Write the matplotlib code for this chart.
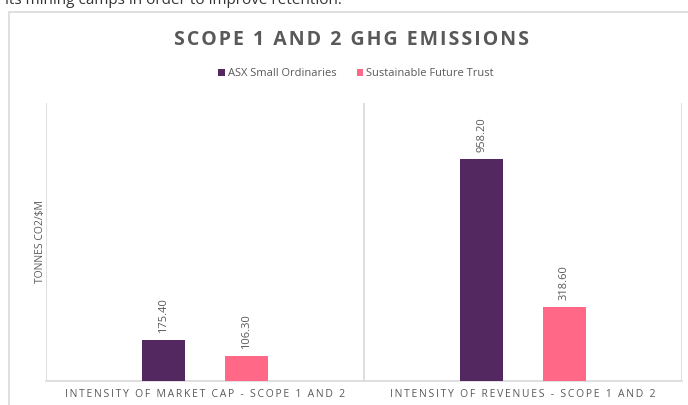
import matplotlib
matplotlib.use('Agg')
import matplotlib.pyplot as plt
from matplotlib.patches import Rectangle
import numpy as np

plt.rcParams['font.family'] = ['Open Sans', 'DejaVu Sans']

# chart data
categories = ['INTENSITY OF MARKET CAP - SCOPE 1 AND 2', 'INTENSITY OF REVENUES - SCOPE 1 AND 2']
series_names = ['ASX Small Ordinaries', 'Sustainable Future Trust']
asx_values = [175.40, 958.20]
sft_values = [106.30, 318.60]

purple = '#53275F'
pink = '#FF6987'
grey_text = '#595959'
grid_col = '#D9D9D9'


def spaced(s, sep='\u200a'):
    # fake letter spacing, excel style
    return sep.join(list(s))


fig = plt.figure(figsize=(6.88, 4.05), dpi=100)

# bit of the page text that got cut off at the top of the screenshot
fig.text(5 / 688, 1 - 4 / 405, 'its mining camps in order to improve retention.',
         fontsize=11, color='#333333', va='baseline', ha='left')

# chart frame
frame = Rectangle((9 / 688, -0.1), 1.2, 1.1 - 12 / 405, transform=fig.transFigure,
                  fill=False, edgecolor=grid_col, linewidth=1.2, clip_on=False)
fig.patches.append(frame)

ax = fig.add_axes([46 / 688, 24 / 405, (682 - 46) / 688, (381 - 103) / 405])

x = np.arange(len(categories))
w = 0.135
off = 0.13
b1 = ax.bar(x - off, asx_values, w, color=purple, label=series_names[0], zorder=3)
b2 = ax.bar(x + off, sft_values, w, color=pink, label=series_names[1], zorder=3)

for bars, vals in [(b1, asx_values), (b2, sft_values)]:
    for r, v in zip(bars, vals):
        ax.annotate('%.2f' % v, (r.get_x() + r.get_width() / 2, r.get_height()),
                    xytext=(0, 5), textcoords='offset points', rotation=90,
                    ha='center', va='bottom', fontsize=8, color=grey_text)

ax.set_xlim(-0.5, len(categories) - 0.5)
ax.set_ylim(0, 1200)

# category boundaries
for xb in np.arange(-0.5, len(categories), 1.0):
    ax.axvline(xb, color=grid_col, linewidth=1.2, zorder=1)

for s in ['top', 'left', 'right']:
    ax.spines[s].set_visible(False)
ax.spines['bottom'].set_color(grid_col)
ax.spines['bottom'].set_linewidth(1.2)

ax.set_yticks([])
ax.set_xticks(x)
ax.set_xticklabels([spaced(c, '\u2009') for c in categories], fontsize=7.5, color=grey_text)
ax.tick_params(axis='x', length=0, pad=6)

ax.set_ylabel('TONNES CO2/$M', fontsize=7.5, color=grey_text, labelpad=0)

fig.text(352 / 688, 1 - 40 / 405, spaced('SCOPE 1 AND 2 GHG EMISSIONS', '\u200a'),
         fontsize=14, fontweight='bold', color=grey_text, ha='center', va='center')

fig.legend(loc='center', bbox_to_anchor=(356 / 688, 1 - 74 / 405), ncol=2, frameon=False,
           fontsize=8, handlelength=0.6, handleheight=0.6, handletextpad=0.3,
           columnspacing=1.8, labelcolor=grey_text)

fig.savefig('out.png', dpi=100)
